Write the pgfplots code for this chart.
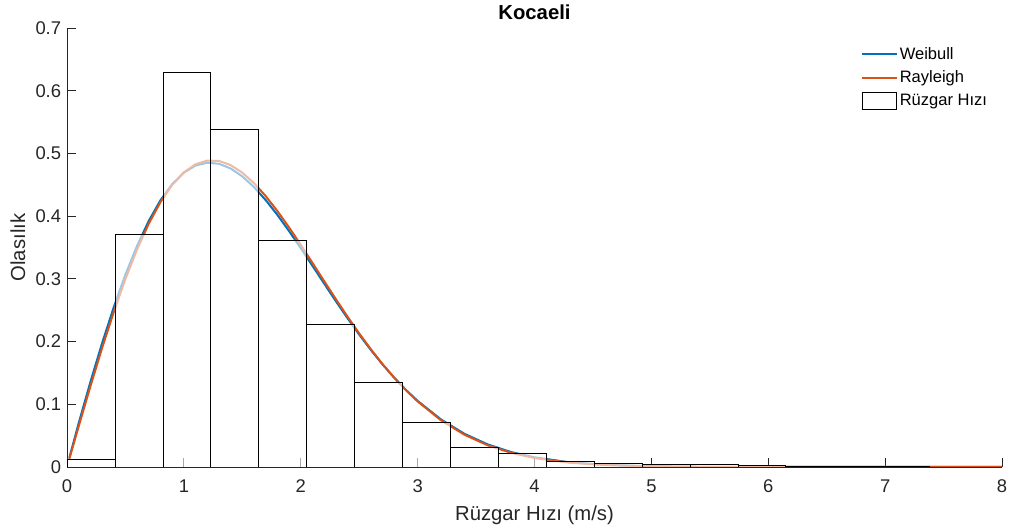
\documentclass[border=0pt]{standalone}
\usepackage{fontspec}
\setmainfont{Liberation Sans}
\usepackage{pgfplots}
\pgfplotsset{compat=1.18}
\definecolor{mlblue}{rgb}{0,0.447,0.741}
\definecolor{mlorange}{rgb}{0.85,0.325,0.098}
\definecolor{axgray}{rgb}{0.15,0.15,0.15}

\pgfplotsset{
  fitline legend/.style={legend image code/.code={\draw[##1] (0pt,0pt) -- (26pt,0pt);}},
  histbox legend/.style={legend image code/.code={\draw[draw=black, line width=0.5pt, fill=white] (0pt,-6.2pt) rectangle (26pt,6.2pt);}},
}

% Weibull fit (k = 1.97, c = 1.75) evaluated on a grid
\pgfplotstableread{
x y
0.02 0.0147
0.1 0.0699
0.2 0.1354
0.3 0.1973
0.4 0.2547
0.5 0.3068
0.6 0.3530
0.7 0.3926
0.8 0.4254
0.9 0.4510
1.0 0.4693
1.1 0.4807
1.2 0.4852
1.3 0.4835
1.4 0.4760
1.5 0.4634
1.6 0.4463
1.7 0.4256
1.8 0.4020
1.9 0.3762
2.0 0.3489
2.1 0.3209
2.2 0.2926
2.3 0.2645
2.4 0.2373
2.5 0.2112
2.6 0.1866
2.7 0.1635
2.8 0.1423
2.9 0.1229
3.0 0.1054
3.2 0.0758
3.4 0.0530
3.6 0.0360
3.8 0.0238
4.0 0.0154
4.3 0.0075
4.6 0.0035
5.0 0.0011
5.5 0.0002
6.0 0.00005
7.0 0.0
8.0 0.0
}\weibull

% Rayleigh fit (sigma = 1.24) evaluated on a grid
\pgfplotstableread{
x y
0.02 0.0130
0.1 0.0648
0.2 0.1284
0.3 0.1895
0.4 0.2470
0.5 0.2998
0.6 0.3471
0.7 0.3882
0.8 0.4225
0.9 0.4498
1.0 0.4698
1.1 0.4827
1.2 0.4886
1.3 0.4880
1.4 0.4814
1.5 0.4693
1.6 0.4526
1.7 0.4320
1.8 0.4082
1.9 0.3820
2.0 0.3543
2.1 0.3255
2.2 0.2965
2.3 0.2678
2.4 0.2398
2.5 0.2130
2.6 0.1877
2.7 0.1640
2.8 0.1423
2.9 0.1224
3.0 0.1046
3.2 0.0745
3.4 0.0515
3.6 0.0346
3.8 0.0226
4.0 0.0143
4.3 0.0069
4.6 0.0031
5.0 0.0010
5.5 0.0002
6.0 0.00003
7.0 0.0
8.0 0.0
}\rayleigh

% Histogram: left bin edge and probability density (last row closes the final bin)
\pgfplotstableread{
x y
0.00 0.013
0.41 0.371
0.82 0.630
1.23 0.538
1.64 0.362
2.05 0.227
2.46 0.135
2.87 0.072
3.28 0.032
3.69 0.021
4.10 0.0098
4.51 0.0063
4.92 0.0048
5.33 0.0036
5.74 0.0034
6.15 0.0012
6.56 0.0009
6.97 0.0006
7.38 0.0006
}\histo

\begin{document}
\begin{tikzpicture}
\path[use as bounding box] (-50.25pt,-48pt) rectangle (706.5pt,350.25pt);
\begin{axis}[
  at={(0pt,0pt)}, anchor=south west,
  scale only axis, width=701.25pt, height=329.25pt,
  xmin=0, xmax=8, ymin=0, ymax=0.7,
  axis x line=bottom, axis y line=left,
  axis line style={-, draw=axgray, line width=0.6pt},
  tick align=inside, major tick length=6.75pt,
  every tick/.style={draw=axgray, line width=0.6pt},
  xtick={0,1,2,3,4,5,6,7,8},
  ytick={0,0.1,0.2,0.3,0.4,0.5,0.6,0.7},
  /pgf/number format/assume math mode=true,
  ticklabel style={font=\fontsize{13.8}{16}\selectfont, text=axgray},
  xticklabel style={anchor=base, yshift=-19.5pt},
  yticklabel style={/pgf/number format/fixed, xshift=-0.9pt},
  title={Kocaeli},
  every axis title/.style={at={(axis description cs:0.5,1)}, anchor=base, yshift=6.5pt,
    font=\fontsize{15.2}{18}\selectfont\bfseries},
  xlabel={Rüzgar Hızı (m/s)},
  xlabel style={at={(axis description cs:0.5,0)}, anchor=base, yshift=-39.75pt,
    font=\fontsize{15.2}{18}\selectfont, text=axgray},
  ylabel={Olasılık},
  ylabel style={at={(axis description cs:-0.0449,0.5)}, anchor=base,
    font=\fontsize{15.2}{18}\selectfont, text=axgray},
  legend style={at={(axis description cs:0.849,0.961)}, anchor=north west,
    draw=none, fill=none, inner sep=0pt, row sep=4pt,
    font=\fontsize{12.4}{14.5}\selectfont,
    nodes={inner sep=1.5pt}},
  legend cell align=left,
]
\addplot[mlblue, line width=1.5pt, fitline legend] table[x=x, y=y] {\weibull};
\addlegendentry{Weibull}
\addplot[mlorange, line width=1.5pt, fitline legend] table[x=x, y=y] {\rayleigh};
\addlegendentry{Rayleigh}
\addplot[ybar interval, draw=black, line width=0.5pt, fill=white, fill opacity=0.6,
  histbox legend] table[x=x, y=y] {\histo};
\addlegendentry{Rüzgar Hızı}
\end{axis}
\end{tikzpicture}
\end{document}
